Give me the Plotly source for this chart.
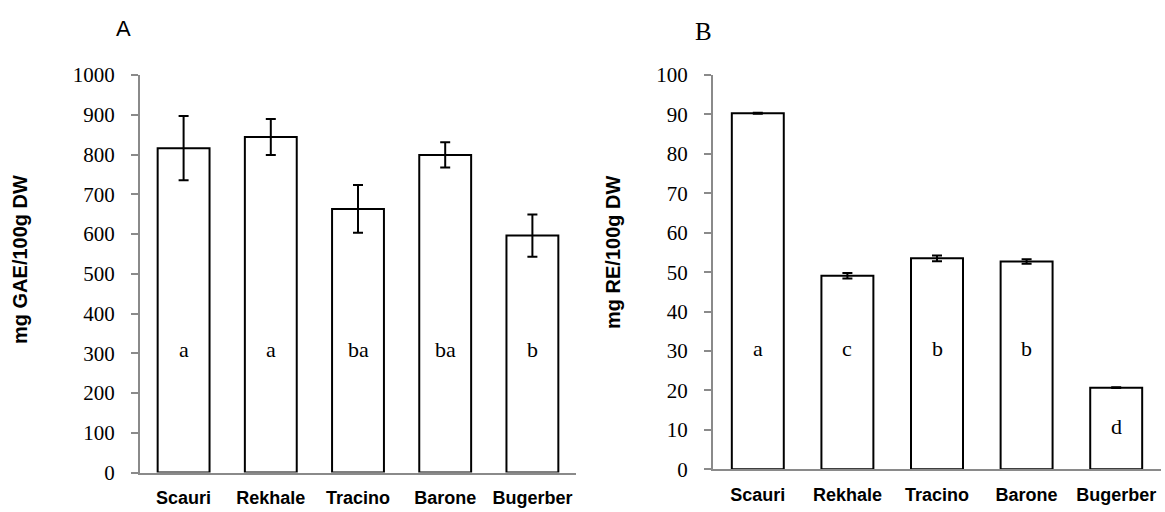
import plotly.graph_objects as go

categories = ["Scauri", "Rekhale", "Tracino", "Barone", "Bugerber"]

gae_values = [816, 844, 663, 799, 596]
gae_errors = [81, 45, 60, 32, 53]
gae_letters = ["a", "a", "ba", "ba", "b"]

re_values = [90.3, 49.1, 53.5, 52.7, 20.7]
re_errors = [0.1, 0.7, 0.75, 0.6, 0.1]
re_letters = ["a", "c", "b", "b", "d"]

gae_ticks = [0, 100, 200, 300, 400, 500, 600, 700, 800, 900, 1000]
re_ticks = [0, 10, 20, 30, 40, 50, 60, 70, 80, 90, 100]

W, H = 1165, 512
AXIS_GRAY = "#8a8a8a"
SERIF = "Liberation Serif"
SANS = "Liberation Sans"

fig = go.Figure()

fig.add_trace(go.Bar(
    x=categories, y=gae_values, width=0.595,
    marker=dict(color="white", line=dict(color="black", width=2)),
    error_y=dict(type="data", array=gae_errors, visible=True,
                 color="black", thickness=2, width=5),
    xaxis="x", yaxis="y", showlegend=False, hoverinfo="x+y",
))
fig.add_trace(go.Bar(
    x=categories, y=re_values, width=0.58,
    marker=dict(color="white", line=dict(color="black", width=2)),
    error_y=dict(type="data", array=re_errors, visible=True,
                 color="black", thickness=2, width=5),
    xaxis="x2", yaxis="y2", showlegend=False, hoverinfo="x+y",
))

annotations = []
for c, t in zip(categories, gae_letters):
    annotations.append(dict(x=c, y=310, xref="x", yref="y", text=t,
                            xanchor="center", yanchor="middle",
                            showarrow=False, font=dict(family=SERIF, size=22, color="black")))
re_letter_y = [30.7, 30.7, 30.7, 30.7, 10.8]
for c, t, yy in zip(categories, re_letters, re_letter_y):
    annotations.append(dict(x=c, y=yy, xref="x2", yref="y2", text=t,
                            xanchor="center", yanchor="middle",
                            showarrow=False, font=dict(family=SERIF, size=22, color="black")))

def paper_text(px, py, text, font, angle=0):
    return dict(x=px / W, y=1 - py / H, xref="paper", yref="paper", text=text,
                textangle=angle, xanchor="center", yanchor="middle",
                showarrow=False, font=font)

annotations.append(paper_text(123, 28, "A", dict(family=SANS, size=22, color="black")))
annotations.append(paper_text(703, 31, "B", dict(family=SERIF, size=25, color="black")))
annotations.append(paper_text(20, 260, "<b>mg GAE/100g DW</b>",
                              dict(family=SANS, size=20, color="black"), angle=-90))
annotations.append(paper_text(613, 253, "<b>mg RE/100g DW</b>",
                              dict(family=SANS, size=20, color="black"), angle=-90))

xaxis_common = dict(
    type="category", range=[-0.5, 4.5], showline=True, linecolor=AXIS_GRAY, linewidth=2,
    ticks="", showgrid=False, zeroline=False, ticklabelstandoff=8, automargin=False,
    tickfont=dict(family=SANS, size=18, color="black", weight="bold"),
)
yaxis_common = dict(
    showline=True, linecolor=AXIS_GRAY, linewidth=2, ticks="outside", ticklen=7,
    tickcolor=AXIS_GRAY, tickwidth=2, showgrid=False, zeroline=False, automargin=False,
    ticklabelstandoff=12, tickfont=dict(family=SERIF, size=21, color="black"),
)

fig.update_layout(
    width=W, height=H,
    margin=dict(l=0, r=0, t=0, b=0),
    paper_bgcolor="white", plot_bgcolor="white",
    barmode="group",
    xaxis=dict(domain=[140 / W, 576 / W], anchor="y", **xaxis_common),
    yaxis=dict(domain=[(H - 472.5) / H, (H - 75) / H], anchor="x", range=[0, 1000],
               tickvals=gae_ticks, ticktext=[str(v) for v in gae_ticks], **yaxis_common),
    xaxis2=dict(domain=[713 / W, 1161 / W], anchor="y2", **xaxis_common),
    yaxis2=dict(domain=[(H - 469.3) / H, (H - 75) / H], anchor="x2", range=[0, 100],
                tickvals=re_ticks, ticktext=[str(v) for v in re_ticks], **yaxis_common),
    annotations=annotations,
)

fig.write_html("out.html")
